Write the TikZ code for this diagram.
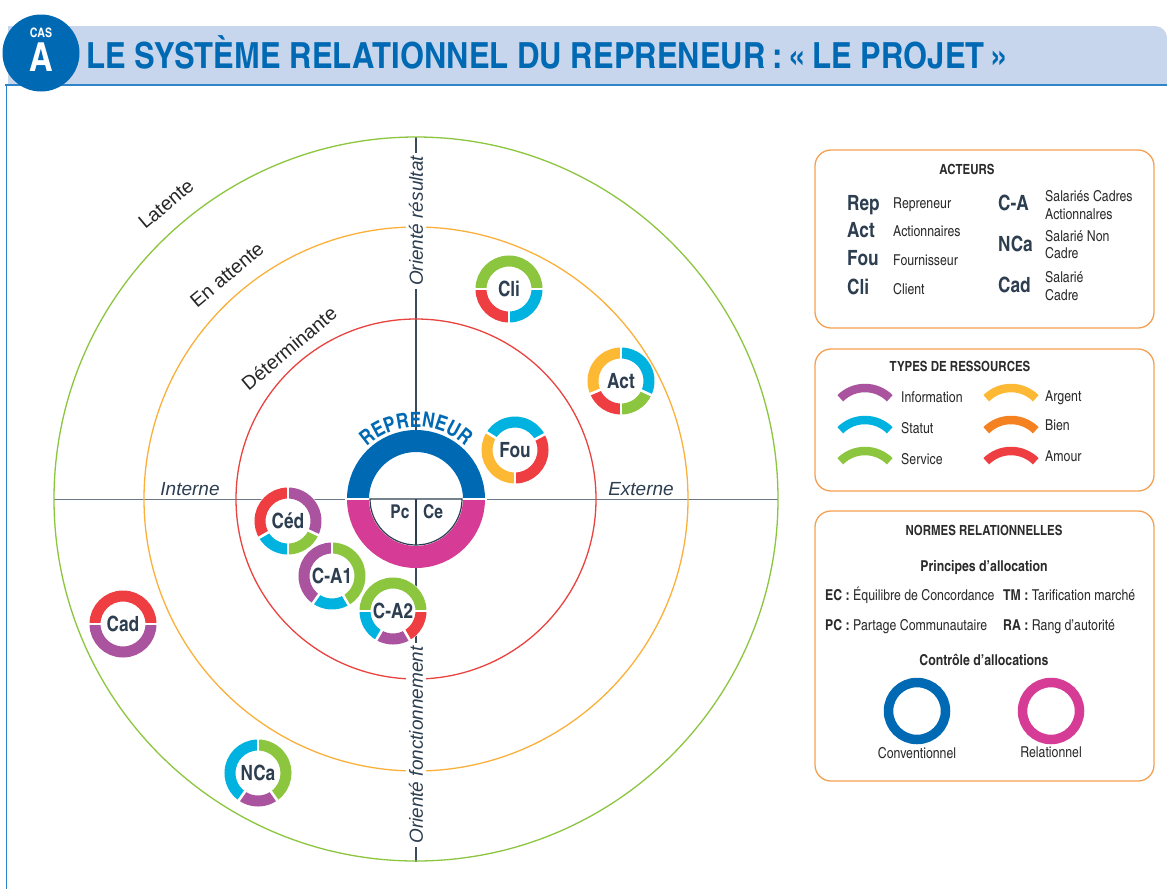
\documentclass[tikz,border=0pt]{standalone}
\usepackage{fontspec}
\usepackage{graphicx}
\setmainfont{Liberation Sans}
\newfontfamily\cond{texgyreheroscn}[Extension=.otf, UprightFont=*-regular, BoldFont=*-bold, ItalicFont=*-italic, BoldItalicFont=*-bolditalic]
\usetikzlibrary{decorations.text}
\definecolor{cblue}{HTML}{0069B4}
\definecolor{cpink}{HTML}{D63C96}
\definecolor{cband}{HTML}{C7D6EC}
\definecolor{cline}{HTML}{2E86C8}
\definecolor{cpurple}{HTML}{AA539E}
\definecolor{ccyan}{HTML}{00B2DF}
\definecolor{cgreen}{HTML}{8CC63F}
\definecolor{cyellow}{HTML}{FDB933}
\definecolor{corange}{HTML}{F58220}
\definecolor{cred}{HTML}{EE3E42}
\definecolor{cdark}{HTML}{2C3E50}
\definecolor{ctext}{HTML}{2B2B2B}
\definecolor{cbox}{HTML}{F5A050}
\definecolor{caxis}{HTML}{3B4A5C}
\definecolor{caxish}{HTML}{6A7888}
\definecolor{ccircred}{HTML}{E94340}
\definecolor{ccircorange}{HTML}{FBB03B}
\newcommand{\fsz}[1]{\fontsize{#1}{#1}\selectfont}
\newcommand{\rseg}[5]{\draw[#5, line width=11pt] (#1,#2) ++(#3:28) arc[start angle=#3, end angle=#4, radius=28];}
\newcommand{\rgap}[3]{\draw[white, line width=2.6pt] (#1,#2) ++(#3:20) -- ++(#3:16);}
\newcommand{\legarc}[3]{\draw[#3, line width=8.5pt] (#1,#2) ++(135:35) arc[start angle=135, end angle=45, radius=35];}
\begin{document}
\begin{tikzpicture}[x=1pt,y=1pt,
  actorlabel/.style={font=\cond\bfseries\fsz{21}, text=cdark, inner sep=0},
  legabbr/.style={font=\cond\bfseries\fsz{21}, text=cdark, anchor=base west, inner sep=0},
  legtext/.style={font=\cond\fsz{15}, text=ctext, anchor=base west, inner sep=0},
  legtitle/.style={font=\cond\bfseries\fsz{14}, text=ctext, anchor=base, inner sep=0},
  normtext/.style={font=\cond\fsz{15}, text=ctext, anchor=base west, inner sep=0},
  normhead/.style={font=\cond\bfseries\fsz{15}, text=ctext, anchor=base, inner sep=0},
  legbox/.style={draw=cbox, line width=1.3pt, rounded corners=16pt},
  axislabel/.style={font=\itshape\fsz{19}, text=cdark},
  arclabel/.style={font=\fsz{19.5}, text=black!85, inner sep=0},
]
\useasboundingbox (0,0) rectangle (1167,-889);
\fill[white] (0,0) rectangle (1167,-889);
% header
\fill[cband] (8,-84) -- (8,-26) -- (1155,-26) arc[start angle=90,end angle=0,radius=12] -- (1167,-84) -- cycle;
\draw[cline, line width=1.5pt] (5,-85) -- (1167,-85);
\draw[cline, line width=1pt] (6,-85) -- (6,-889);
\fill[cblue] (41,-53) circle[radius=38.5];
\node[text=white, font=\cond\bfseries\fsz{13}, inner sep=0] (cas) at (41,-33) {CAS};
\node[text=white, font=\cond\bfseries\fsz{40}, inner sep=0] (casA) at (41,-57) {A};
\node[anchor=base west, inner sep=0, text=cblue] (title) at (86,-68) {\resizebox{922pt}{\height}{\cond\bfseries\fsz{36}LE SYSTÈME RELATIONNEL DU REPRENEUR\,:\,«\,LE PROJET\,»}};
% axes and circles
\coordinate (O) at (416,-499);
\coordinate (axL) at (54,-499);
\coordinate (axR) at (778,-499);
\coordinate (axT) at (416,-137);
\coordinate (axB) at (416,-862);
\draw[caxish, line width=0.9pt] (axL) -- (axR);
\draw[caxis, line width=1.1pt] (axT) -- (axB);
\draw[cgreen, line width=1.3pt] (O) circle[radius=362];
\draw[ccircorange, line width=1.3pt] (O) circle[radius=272];
\draw[ccircred, line width=1.3pt] (O) circle[radius=180];
\node[axislabel, rotate=90, fill=white, inner sep=3pt] (ores) at (416,-221) {Orienté résultat};
\node[axislabel, rotate=90, fill=white, inner sep=3pt] (ofon) at (416,-745) {Orienté fonctionnement};
\node[axislabel, anchor=base] (int) at (190,-495) {Interne};
\node[axislabel, anchor=base] (ext) at (641,-495) {Externe};
\node[arclabel, rotate=40] (lat) at (166,-204) {Latente};
\node[arclabel, rotate=40] (att) at (227,-275) {En attente};
\node[arclabel, rotate=40] (det) at (289,-348) {Déterminante};
% centre
\fill[white] (O) circle[radius=69];
\draw[cblue, line width=22pt] (O) ++(0:58) arc[start angle=0,end angle=180,radius=58];
\draw[cpink, line width=22pt] (O) ++(180:58) arc[start angle=180,end angle=360,radius=58];
\draw[white, line width=2pt] (O) ++(0:45) -- ++(0:26);
\draw[white, line width=2pt] (O) ++(180:45) -- ++(180:26);
\draw[cdark, line width=1.2pt] (O) ++(180:46) arc[start angle=180,end angle=360,radius=46] -- cycle;
\draw[cdark, line width=1.2pt] (O) -- ++(0,-46);
\node[actorlabel, font=\cond\bfseries\fsz{19}] (pc) at (400,-512) {Pc};
\node[actorlabel, font=\cond\bfseries\fsz{19}] (ce) at (433,-512) {Ce};
\path[decorate, decoration={text along path, text align=center, text={|\cond\bfseries\fsz{21}\color{cblue}|REPRENEUR}}] (O) ++(160:72) arc[start angle=160, end angle=20, radius=72];
% actors
\fill[white] (509,-289) circle[radius=34];
\rseg{509}{-289}{0}{180}{cgreen}\rseg{509}{-289}{180}{270}{cred}\rseg{509}{-289}{270}{360}{ccyan}
\rgap{509}{-289}{0}\rgap{509}{-289}{180}\rgap{509}{-289}{270}
\node[actorlabel] (cli) at (509,-289) {Cli};
\fill[white] (621,-381) circle[radius=34];
\rseg{621}{-381}{90}{203}{cyellow}\rseg{621}{-381}{203}{270}{cred}\rseg{621}{-381}{270}{335}{cgreen}\rseg{621}{-381}{-25}{90}{ccyan}
\rgap{621}{-381}{90}\rgap{621}{-381}{203}\rgap{621}{-381}{270}\rgap{621}{-381}{335}
\node[actorlabel] (act) at (621,-381) {Act};
\fill[white] (515,-450) circle[radius=34];
\rseg{515}{-450}{28}{148}{ccyan}\rseg{515}{-450}{148}{270}{cyellow}\rseg{515}{-450}{-90}{28}{cred}
\rgap{515}{-450}{28}\rgap{515}{-450}{148}\rgap{515}{-450}{270}
\node[actorlabel] (fou) at (515,-450) {Fou};
\fill[white] (288,-521) circle[radius=34];
\rseg{288}{-521}{-25}{90}{cpurple}\rseg{288}{-521}{90}{210}{cred}\rseg{288}{-521}{210}{270}{ccyan}\rseg{288}{-521}{270}{335}{cgreen}
\rgap{288}{-521}{90}\rgap{288}{-521}{210}\rgap{288}{-521}{270}\rgap{288}{-521}{335}
\node[actorlabel] (ced) at (288,-521) {Céd};
\fill[white] (332,-576) circle[radius=34];
\rseg{332}{-576}{90}{235}{cpurple}\rseg{332}{-576}{235}{300}{ccyan}\rseg{332}{-576}{300}{450}{cgreen}
\rgap{332}{-576}{90}\rgap{332}{-576}{235}\rgap{332}{-576}{300}
\node[actorlabel] (ca1) at (332,-576) {C-A1};
\fill[white] (393,-611) circle[radius=34];
\rseg{393}{-611}{0}{180}{cgreen}\rseg{393}{-611}{180}{240}{ccyan}\rseg{393}{-611}{240}{300}{cpurple}\rseg{393}{-611}{300}{360}{cred}
\rgap{393}{-611}{0}\rgap{393}{-611}{180}\rgap{393}{-611}{240}\rgap{393}{-611}{300}
\node[actorlabel] (ca2) at (393,-611) {C-A2};
\fill[white] (123,-624) circle[radius=34];
\rseg{123}{-624}{0}{180}{cred}\rseg{123}{-624}{180}{360}{cpurple}
\rgap{123}{-624}{0}\rgap{123}{-624}{180}
\node[actorlabel] (cad) at (123,-624) {Cad};
\fill[white] (258,-773) circle[radius=34];
\rseg{258}{-773}{90}{235}{ccyan}\rseg{258}{-773}{235}{305}{cpurple}\rseg{258}{-773}{305}{450}{cgreen}
\rgap{258}{-773}{90}\rgap{258}{-773}{235}\rgap{258}{-773}{305}
\node[actorlabel] (nca) at (258,-773) {NCa};
% legend 1
\draw[legbox] (815,-150) rectangle (1154,-328);
\node[legtitle] (acteurs) at (967,-174) {ACTEURS};
\node[legabbr] (lrep) at (847,-210) {Rep};
\node[legabbr] (lact) at (847,-237) {Act};
\node[legabbr] (lfou) at (847,-265.5) {Fou};
\node[legabbr] (lcli) at (847,-294) {Cli};
\node[legtext] (trep) at (893,-208.5) {Repreneur};
\node[legtext] (tact) at (893,-236.5) {Actionnaires};
\node[legtext] (tfou) at (893,-265) {Fournisseur};
\node[legtext] (tcli) at (893,-294) {Client};
\node[legabbr] (lca) at (998,-210) {C-A};
\node[legabbr] (lnca) at (998,-251.5) {NCa};
\node[legabbr] (lcad) at (998,-292) {Cad};
\node[legtext] (tca1) at (1045,-201) {Salariés Cadres};
\node[legtext] (tca2) at (1045,-219) {Actionnalres};
\node[legtext] (tnca1) at (1045,-241.5) {Salarié Non};
\node[legtext] (tnca2) at (1045,-258) {Cadre};
\node[legtext] (tcad1) at (1045,-282.5) {Salarié};
\node[legtext] (tcad2) at (1045,-300) {Cadre};
% legend 2
\draw[legbox] (815,-349) rectangle (1154,-491);
\node[legtitle] (types) at (960,-371.5) {TYPES DE RESSOURCES};
\legarc{865}{-423}{cpurple}\legarc{865}{-455}{ccyan}\legarc{865}{-486}{cgreen}
\legarc{1011}{-423}{cyellow}\legarc{1011}{-455}{corange}\legarc{1011}{-486}{cred}
\node[legtext] (rinf) at (901,-402.5) {Information};
\node[legtext] (rsta) at (901,-433) {Statut};
\node[legtext] (rser) at (901,-464) {Service};
\node[legtext] (rarg) at (1045,-401) {Argent};
\node[legtext] (rbie) at (1045,-430.5) {Bien};
\node[legtext] (ramo) at (1045,-461.5) {Amour};
% legend 3
\draw[legbox] (815,-511) rectangle (1154,-781);
\node[legtitle] (normes) at (984,-535) {NORMES RELATIONNELLES};
\node[normhead] (princ) at (984,-571.5) {Principes d’allocation};
\node[normtext] (nec) at (825,-600) {\textbf{EC :} Équilibre de Concordance};
\node[normtext] (ntm) at (1003,-600) {\textbf{TM :} Tarification marché};
\node[normtext] (npc) at (825,-630.5) {\textbf{PC :} Partage Communautaire};
\node[normtext] (nra) at (1003,-630.5) {\textbf{RA :} Rang d’autorité};
\node[normhead] (ctrl) at (984,-665) {Contrôle d’allocations};
\draw[cblue, line width=9.5pt] (917,-711) circle[radius=28.5];
\draw[cpink, line width=9.5pt] (1051,-711) circle[radius=28.5];
\node[legtext, anchor=base] (conv) at (917,-758.5) {Conventionnel};
\node[legtext, anchor=base] (rela) at (1051,-757) {Relationnel};
\end{tikzpicture}
\end{document}
